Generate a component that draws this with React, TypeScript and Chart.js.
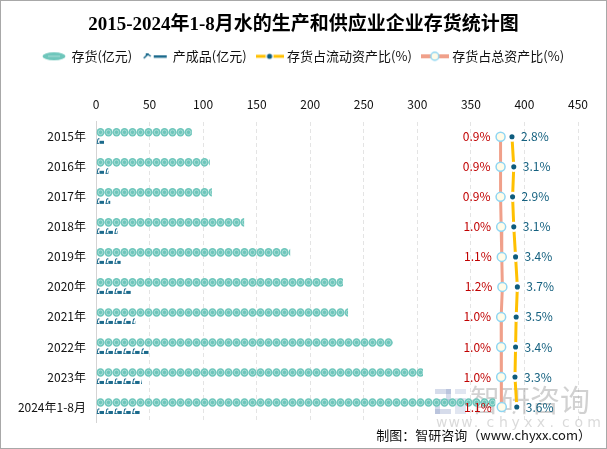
import React, { useEffect, useRef } from 'react';
import { Chart, registerables } from 'chart.js';

Chart.register(...registerables);

const categories = ['2015年', '2016年', '2017年', '2018年', '2019年', '2020年', '2021年', '2022年', '2023年', '2024年1-8月'];
const inventory = [89.5, 106.3, 108.2, 138.3, 181.3, 230.6, 235.3, 277.3, 305.3, 372.8];
const products = [8.2, 11.8, 13.3, 20.2, 23.0, 33.0, 36.7, 49.8, 42.9, 41.3];
const currentRatio = [2.8, 3.1, 2.9, 3.1, 3.4, 3.7, 3.5, 3.4, 3.3, 3.6];
const totalRatio = [0.9, 0.9, 0.9, 1.0, 1.1, 1.2, 1.0, 1.0, 1.0, 1.1];
const xTickValues = [0, 50, 100, 150, 200, 250, 300, 350, 400, 450];

const legendNames = ['存货(亿元)', '产成品(亿元)', '存货占流动资产比(%)', '存货占总资产比(%)'];
const titleText = '2015-2024年1-8月水的生产和供应业企业存货统计图';
const footerText = '制图：智研咨询（www.chyxx.com）';

const CJK = "'Noto Sans CJK SC', 'Noto Sans', sans-serif";
const TEAL = '#6ec6bb';
const TEAL_LIGHT = 'rgba(255,255,255,0.38)';
const NAVY = '#1b6a8c';
const YELLOW = '#ffc000';
const DOT = '#0e5c7e';
const SALMON = '#f0a08a';
const PT_FILL = '#fffbe8';
const PT_BORDER = '#8fd6f2';
const RED_LABEL = '#c00000';
const BLUE_LABEL = '#14607f';

function drawCircle(ctx: CanvasRenderingContext2D, cx: number, cy: number, rx: number, ry: number) {
  ctx.beginPath();
  ctx.ellipse(cx, cy, rx, ry, 0, 0, Math.PI * 2);
  ctx.fillStyle = TEAL;
  ctx.fill();
  ctx.beginPath();
  ctx.ellipse(cx, cy, rx * 0.55, ry * 0.55, 0, 0, Math.PI * 2);
  ctx.strokeStyle = TEAL_LIGHT;
  ctx.lineWidth = 1;
  ctx.stroke();
}

function drawProductGlyph(ctx: CanvasRenderingContext2D, x: number, cy: number) {
  ctx.fillStyle = NAVY;
  ctx.strokeStyle = NAVY;
  ctx.lineWidth = 1;
  ctx.beginPath();
  ctx.moveTo(x + 0.5, cy + 2.5);
  ctx.lineTo(x + 1.5, cy - 2.5);
  ctx.lineTo(x + 3, cy - 2.5);
  ctx.stroke();
  ctx.fillRect(x + 3, cy - 0.5, 4.5, 3);
  ctx.fillRect(x + 0.5, cy + 1.5, 2, 1);
}

const pictorialPlugin = {
  id: 'pictorial',
  beforeDatasetsDraw(chart: any) {
    const ctx = chart.ctx as CanvasRenderingContext2D;
    ctx.save();
    ctx.fillStyle = 'rgba(120,140,190,0.30)';
    ctx.fillRect(435, 389, 16, 5);
    ctx.fillRect(446, 389, 5, 14);
    ctx.fillRect(435, 399, 16, 5);
    ctx.fillRect(435, 399, 5, 15);
    ctx.fillRect(435, 409, 16, 5);
    ctx.fillStyle = 'rgba(120,140,190,0.22)';
    ctx.fillRect(455, 389, 11, 5);
    ctx.fillRect(455, 398, 11, 16);
    ctx.fillStyle = 'rgba(140,140,140,0.40)';
    ctx.font = `30px ${CJK}`;
    ctx.textBaseline = 'middle';
    ctx.textAlign = 'left';
    ctx.fillText('智研咨询', 470, 400);
    ctx.fillStyle = 'rgba(150,150,150,0.35)';
    ctx.font = `14px 'DejaVu Sans', sans-serif`;
    const site = 'www.chyxx.com';
    for (let i = 0; i < site.length; i++) {
      ctx.fillText(site[i], 436 + i * 12.6, 423);
    }
    ctx.restore();
  },
  afterDatasetDraw(chart: any, args: any) {
    const meta = args.meta;
    if (meta.type !== 'bar') return;
    const ctx = chart.ctx as CanvasRenderingContext2D;
    const idx = args.index;
    meta.data.forEach((el: any) => {
      const { x, y, base, height } = el.getProps(['x', 'y', 'base', 'height'], true);
      const x0 = Math.min(base, x);
      const x1 = Math.max(base, x);
      ctx.save();
      ctx.beginPath();
      ctx.rect(x0, y - height, x1 - x0, height * 2);
      ctx.clip();
      if (idx === 0) {
        const d = 8;
        for (let cx = x0 + d / 2; cx - d / 2 < x1; cx += d) {
          drawCircle(ctx, cx, y, 4, 4.3);
        }
      } else {
        const step = 8.9;
        for (let gx = x0; gx < x1; gx += step) {
          drawProductGlyph(ctx, gx, y);
        }
      }
      ctx.restore();
    });
  },
  afterDatasetsDraw(chart: any) {
    const ctx = chart.ctx as CanvasRenderingContext2D;
    ctx.save();
    ctx.font = `12px ${CJK}`;
    ctx.textBaseline = 'middle';
    const totalMeta = chart.getDatasetMeta(3);
    totalMeta.data.forEach((pt: any, i: number) => {
      ctx.fillStyle = RED_LABEL;
      ctx.textAlign = 'right';
      ctx.fillText(totalRatio[i].toFixed(1) + '%', pt.x - 10, pt.y);
    });
    const curMeta = chart.getDatasetMeta(2);
    curMeta.data.forEach((pt: any, i: number) => {
      ctx.fillStyle = BLUE_LABEL;
      ctx.textAlign = 'left';
      ctx.fillText(currentRatio[i].toFixed(1) + '%', pt.x + 9, pt.y);
    });
    ctx.restore();
  },
  afterDraw(chart: any) {
    const ctx = chart.ctx as CanvasRenderingContext2D;
    ctx.save();
    ctx.font = `13px ${CJK}`;
    ctx.fillStyle = '#111';
    ctx.textAlign = 'right';
    ctx.textBaseline = 'middle';
    ctx.fillText(footerText, 591, 435);
    ctx.strokeStyle = '#a8a8a8';
    ctx.lineWidth = 1;
    ctx.strokeRect(0.5, 0.5, chart.width - 1, chart.height - 1);
    ctx.restore();
  },
};

function makeIcon(w: number, h: number, draw: (c: CanvasRenderingContext2D) => void) {
  const c = document.createElement('canvas');
  c.width = w;
  c.height = h;
  const g = c.getContext('2d')!;
  draw(g);
  return c;
}

export default function App() {
  const ref = useRef<HTMLCanvasElement | null>(null);

  useEffect(() => {
    if (!ref.current) return;
    const icons = [
      makeIcon(24, 10, (g) => {
        g.beginPath();
        g.ellipse(12, 5, 11.5, 4, 0, 0, Math.PI * 2);
        g.fillStyle = TEAL;
        g.fill();
        g.strokeStyle = 'rgba(255,255,255,0.45)';
        g.lineWidth = 1;
        g.beginPath();
        g.moveTo(6, 5);
        g.lineTo(18, 5);
        g.stroke();
      }),
      makeIcon(25, 8, (g) => {
        g.strokeStyle = NAVY;
        g.fillStyle = NAVY;
        g.lineWidth = 1.5;
        g.beginPath();
        g.moveTo(1, 6);
        g.lineTo(5, 2);
        g.lineTo(8, 4);
        g.stroke();
        g.fillRect(3, 1, 3, 2);
        g.fillRect(11, 3, 13, 2.5);
      }),
      makeIcon(28, 10, (g) => {
        g.strokeStyle = YELLOW;
        g.lineWidth = 3;
        g.beginPath();
        g.moveTo(0, 5);
        g.lineTo(28, 5);
        g.stroke();
        g.beginPath();
        g.arc(14, 5, 4, 0, Math.PI * 2);
        g.fillStyle = '#fff';
        g.fill();
        g.beginPath();
        g.arc(14, 5, 2.6, 0, Math.PI * 2);
        g.fillStyle = DOT;
        g.fill();
      }),
      makeIcon(28, 12, (g) => {
        g.strokeStyle = SALMON;
        g.lineWidth = 4;
        g.beginPath();
        g.moveTo(0, 6);
        g.lineTo(28, 6);
        g.stroke();
        g.beginPath();
        g.arc(14, 6, 4, 0, Math.PI * 2);
        g.fillStyle = PT_FILL;
        g.fill();
        g.strokeStyle = PT_BORDER;
        g.lineWidth = 1.5;
        g.stroke();
      }),
    ];

    const chart = new Chart(ref.current, {
      type: 'bar',
      data: {
        labels: categories,
        datasets: [
          {
            type: 'bar',
            label: legendNames[0],
            data: inventory,
            backgroundColor: 'rgba(0,0,0,0)',
            borderWidth: 0,
            barThickness: 9,
            xAxisID: 'x',
            order: 2,
          } as any,
          {
            type: 'bar',
            label: legendNames[1],
            data: products,
            backgroundColor: 'rgba(0,0,0,0)',
            borderWidth: 0,
            barThickness: 9,
            xAxisID: 'x',
            order: 2,
          } as any,
          {
            type: 'line',
            label: legendNames[2],
            data: currentRatio,
            indexAxis: 'y',
            xAxisID: 'x2',
            borderColor: YELLOW,
            borderWidth: 3,
            pointRadius: 3.8,
            pointBackgroundColor: DOT,
            pointBorderColor: '#ffffff',
            pointBorderWidth: 2.5,
            tension: 0,
            order: 1,
          } as any,
          {
            type: 'line',
            label: legendNames[3],
            data: totalRatio,
            indexAxis: 'y',
            xAxisID: 'x2',
            borderColor: SALMON,
            borderWidth: 3,
            pointRadius: 4.5,
            pointBackgroundColor: PT_FILL,
            pointBorderColor: PT_BORDER,
            pointBorderWidth: 1.5,
            tension: 0,
            order: 1,
          } as any,
        ],
      },
      options: {
        indexAxis: 'y',
        responsive: false,
        animation: false,
        layout: { padding: { left: 0, right: 0, top: 0, bottom: 27 } },
        plugins: {
          title: {
            display: true,
            text: titleText,
            color: '#000',
            font: { family: `'Liberation Serif', ${CJK}`, size: 19, weight: 'bold' },
            padding: { top: 14, bottom: 1 },
          },
          legend: {
            display: true,
            labels: {
              usePointStyle: true,
              pointStyleWidth: 22,
              boxHeight: 12,
              padding: 12,
              color: '#111',
              font: { family: CJK, size: 13 },
              generateLabels: () =>
                legendNames.map((n, i) => ({
                  text: n,
                  pointStyle: icons[i] as any,
                  fillStyle: 'rgba(0,0,0,0)',
                  strokeStyle: 'rgba(0,0,0,0)',
                  lineWidth: 0,
                  hidden: false,
                  datasetIndex: i,
                  fontColor: '#111',
                })),
            },
            onClick: () => {},
          },
          tooltip: { enabled: false },
        },
        scales: {
          x: {
            type: 'linear',
            position: 'top',
            min: 0,
            max: 450,
            afterBuildTicks: (scale: any) => {
              scale.ticks = xTickValues.map((v) => ({ value: v }));
            },
            afterFit: (scale: any) => {
              scale.height = 49;
            },
            ticks: {
              color: '#111',
              font: { family: CJK, size: 12 },
              padding: 10,
              maxRotation: 0,
            },
            grid: {
              color: '#e4e4e4',
              drawTicks: false,
              tickBorderDash: [4, 3],
            },
            border: { display: false, dash: [4, 3] },
          },
          x2: {
            type: 'linear',
            display: false,
            min: -66.5,
            max: 13.8,
          },
          y: {
            type: 'category',
            position: 'left',
            offset: true,
            afterFit: (scale: any) => {
              scale.width = 96;
            },
            ticks: {
              color: '#111',
              font: { family: CJK, size: 12 },
              padding: 10,
            },
            grid: { display: false, drawTicks: false },
            border: { display: true, color: '#d4d4d4', width: 1 },
          },
          yRight: {
            type: 'linear',
            position: 'right',
            display: true,
            afterFit: (scale: any) => {
              scale.width = 29;
            },
            ticks: { display: false },
            grid: { display: false, drawTicks: false },
            border: { display: false },
          },
        },
      } as any,
      plugins: [pictorialPlugin as any],
    });
    return () => chart.destroy();
  }, []);

  return (
    <div style={{ position: 'fixed', left: 0, top: 0, width: 607, height: 449, background: '#fff' }}>
      <canvas ref={ref} width={607} height={449} style={{ display: 'block', width: 607, height: 449 }} />
    </div>
  );
}
